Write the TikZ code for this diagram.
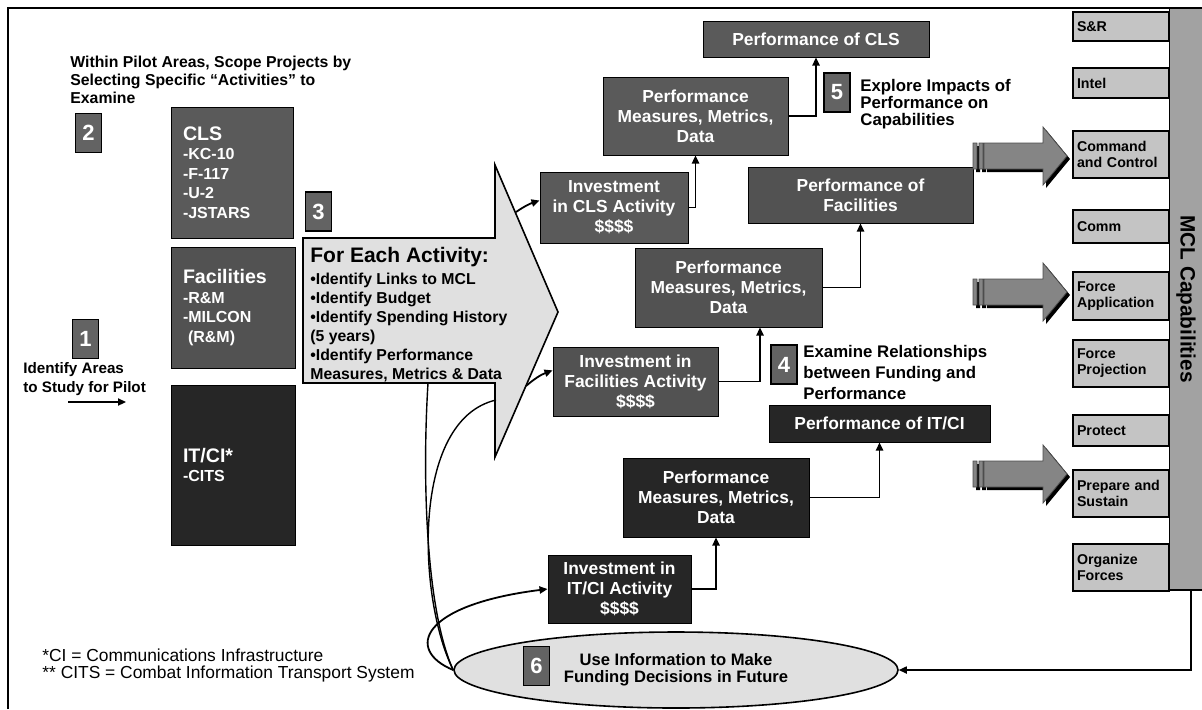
\documentclass[tikz,border=0pt]{standalone}
\usepackage{fontspec}
\setmainfont{Liberation Sans}
\usetikzlibrary{arrows.meta, shapes.geometric}
\definecolor{clsFill}{HTML}{5A5A5A}
\definecolor{facFill}{HTML}{525252}
\definecolor{itFill}{HTML}{262626}
\definecolor{numFill}{HTML}{636363}
\definecolor{capFill}{HTML}{C4C4C4}
\definecolor{mclFill}{HTML}{A2A2A2}
\definecolor{flowFill}{HTML}{E0E0E0}
\definecolor{blockFill}{HTML}{858585}
\tikzset{
  frameLine/.style={line width=1pt},
  areaBox/.style={rectangle, draw=black, line width=0.5pt, text=white, align=left,
                  font=\bfseries\fontsize{8}{9.75}\selectfont, inner xsep=6pt, inner ysep=2pt},
  darkBox/.style={rectangle, draw=black, line width=0.5pt, text=white, align=center,
                  font=\bfseries\fontsize{8.7}{10}\selectfont, inner sep=1pt},
  clsBox/.style={darkBox, fill=clsFill},
  facBox/.style={darkBox, fill=facFill},
  itBox/.style={darkBox, fill=itFill},
  stepNum/.style={rectangle, draw=black, line width=0.6pt, fill=numFill, text=white,
                  font=\bfseries\fontsize{11}{12}\selectfont,
                  minimum width=13pt, minimum height=19.5pt, inner sep=0pt},
  capBox/.style={rectangle, draw=black, line width=0.8pt, fill=capFill, align=left,
                 text width=44pt, inner xsep=2pt, inner ysep=1pt,
                 font=\bfseries\fontsize{7.1}{8}\selectfont},
  mclBar/.style={rectangle, draw=black, line width=0.8pt, fill=mclFill,
                 font=\bfseries\fontsize{10.4}{12}\selectfont},
  flowShape/.style={draw=black, line width=0.8pt, fill=flowFill},
  blockArrow/.style={fill=blockFill, draw=black!70, line width=0.4pt},
  blockShadow/.style={fill=black},
  noteText/.style={anchor=north west, align=left, inner sep=0pt},
  footText/.style={noteText, font=\fontsize{8.7}{8.5}\selectfont},
  linkArrow/.style={-{Triangle[length=4pt, width=3.6pt]}, line width=0.9pt},
  linkLine/.style={line width=0.7pt},
}
\begin{document}
\begin{tikzpicture}[x=0.5pt, y=-0.5pt]
  \useasboundingbox (0,0) rectangle (1202,709);

  % outer frame, closed on the right by the capability bar
  \draw[frameLine] (8,709) -- (8,8) -- (1171,8);

  % ─── steps 1-3: pick areas and activities ─────────────────────────────
  \node[noteText, font=\bfseries\fontsize{7.9}{9}\selectfont] (scopeText) at (70,56)
       {Within Pilot Areas, Scope Projects by\\Selecting Specific “Activities” to\\Examine};
  \node[stepNum] (num2) at (88.5,133) {2};
  \node[stepNum] (num1) at (85.5,339) {1};
  \node[noteText, font=\bfseries\fontsize{7.6}{9.5}\selectfont] (pilotText) at (23,362)
       {Identify Areas\\to Study for Pilot};
  \coordinate (pilotTail) at (68,402);
  \coordinate (pilotHead) at (126,402);
  \draw[linkArrow, line width=0.7pt] (pilotTail) -- (pilotHead);

  \node[areaBox, fill=clsFill, text width=49pt, minimum height=65.5pt] (areaCLS) at (232,172.5)
       {{\fontsize{9.8}{11}\selectfont CLS}\\-KC-10\\-F-117\\-U-2\\-JSTARS};
  \node[areaBox, fill=facFill, text width=50pt, minimum height=60.5pt] (areaFac) at (233,307.5)
       {{\fontsize{9.8}{11}\selectfont Facilities}\\-R\&M\\-MILCON\\\hspace{2.5pt}(R\&M)};
  \node[areaBox, fill=itFill, text width=50pt, minimum height=80pt] (areaIT) at (233,465)
       {{\fontsize{9.8}{11}\selectfont IT/CI*}\\-CITS};
  \node[stepNum] (num3) at (318.5,211.5) {3};

  % big process arrow
  \filldraw[flowShape] (303,238) -- (495,238) -- (495,165) -- (558,312)
                       -- (495,457) -- (495,383) -- (303,383) -- cycle;
  \node[noteText, font=\bfseries\fontsize{7.9}{9.5}\selectfont] (activityText) at (310,247)
       {{\fontsize{10.5}{12}\selectfont For Each Activity:}\\[1.5pt]
        \textbullet Identify Links to MCL\\
        \textbullet Identify Budget\\
        \textbullet Identify Spending History\\
        (5 years)\\
        \textbullet Identify Performance\\
        Measures, Metrics \& Data};
  \coordinate (headUpper) at (516,212);
  \coordinate (headLower) at (526,386);
  \coordinate (bodyFoot) at (428,383);
  \coordinate (headFoot) at (496,400);

  % ─── investment -> measures -> performance, one chain per area ─────────
  \node[clsBox, minimum width=74pt, minimum height=35.5pt] (invCLS) at (614,207.5)
       {Investment\\in CLS Activity\\\$\$\$\$};
  \node[clsBox, minimum width=92.5pt, minimum height=39pt] (pmCLS) at (695.5,116)
       {Performance\\Measures, Metrics,\\Data};
  \node[clsBox, minimum width=113pt, minimum height=18pt] (perfCLS) at (816,39)
       {Performance of CLS};

  \node[facBox, minimum width=82.5pt, minimum height=34.5pt] (invFac) at (635.5,381.5)
       {Investment in\\Facilities Activity\\\$\$\$\$};
  \node[facBox, minimum width=93.5pt, minimum height=39.5pt] (pmFac) at (728.5,287.5)
       {Performance\\Measures, Metrics,\\Data};
  \node[facBox, minimum width=112.5pt, minimum height=28pt] (perfFac) at (860.5,195)
       {Performance of\\Facilities};

  \node[itBox, minimum width=71.5pt, minimum height=34pt] (invIT) at (619.5,589)
       {Investment in\\IT/CI Activity\\\$\$\$\$};
  \node[itBox, minimum width=93pt, minimum height=39.5pt] (pmIT) at (716,497.5)
       {Performance\\Measures, Metrics,\\Data};
  \node[itBox, minimum width=110.5pt, minimum height=18.5pt] (perfIT) at (879.5,423.5)
       {Performance of IT/CI};

  % steps 4 and 5
  \node[stepNum] (num5) at (837,92.5) {5};
  \node[noteText, font=\bfseries\fontsize{8.4}{8.4}\selectfont] (exploreText) at (860,79)
       {Explore Impacts of\\Performance on\\Capabilities};
  \node[stepNum] (num4) at (784,364.5) {4};
  \node[noteText, font=\bfseries\fontsize{8.4}{10.5}\selectfont] (examineText) at (803,345)
       {Examine Relationships\\between Funding and\\Performance};

  % ─── step 6 ──────────────────────────────────────────────────────────
  \node[ellipse, flowShape, minimum width=222pt, minimum height=38pt, inner sep=0pt,
        align=center, font=\bfseries\fontsize{8.3}{8.7}\selectfont] (useInfo) at (676,670)
       {Use Information to Make\\Funding Decisions in Future};
  \node[stepNum] (num6) at (536.5,666) {6};

  \node[footText] (footCI) at (42,648)
       {*CI = Communications Infrastructure\\** CITS = Combat Information Transport System};

  % ─── MCL capabilities column ───────────────────────────────────────────
  \node[mclBar, rotate=-90, minimum width=291pt, minimum height=15pt] (mcl) at (1186,299)
       {MCL Capabilities};
  \node[capBox, minimum height=14.5pt] (capSR) at (1121,26.5) {S\&R};
  \node[capBox, minimum height=15pt] (capIntel) at (1121,83) {Intel};
  \node[capBox, minimum height=23.5pt] (capCommand) at (1121,154.5) {Command\\and Control};
  \node[capBox, minimum height=16.5pt] (capComm) at (1121,226.5) {Comm};
  \node[capBox, minimum height=24pt] (capForceApp) at (1121,296) {Force\\Application};
  \node[capBox, minimum height=23.5pt] (capForceProj) at (1121,363.5) {Force\\Projection};
  \node[capBox, minimum height=15.5pt] (capProtect) at (1121,430.5) {Protect};
  \node[capBox, minimum height=23.5pt] (capSustain) at (1121,493.5) {Prepare and\\Sustain};
  \node[capBox, minimum height=23.5pt] (capOrganize) at (1121,567.5) {Organize\\Forces};

  % striped block arrows into the capabilities
  \foreach \ay in {156,292,474} {
    \fill[blockShadow] (976,\ay-10) rectangle (980,\ay+16)
                       (982,\ay-10) rectangle (986,\ay+16)
                       (987,\ay-10) -- (1046,\ay-10) -- (1046,\ay-26) -- (1070,\ay+3)
                       -- (1046,\ay+32) -- (1046,\ay+16) -- (987,\ay+16) -- cycle;
    \filldraw[blockArrow] (973,\ay-13) rectangle (977,\ay+13)
                          (979,\ay-13) rectangle (983,\ay+13)
                          (984,\ay-13) -- (1043,\ay-13) -- (1043,\ay-29) -- (1067,\ay)
                          -- (1043,\ay+29) -- (1043,\ay+13) -- (984,\ay+13) -- cycle;
  }

  % ─── connectors ──────────────────────────────────────────────────────
  \draw[linkArrow] (headUpper) to[bend left=8] (invCLS);
  \draw[linkArrow] (headLower) to[bend left=10] (invFac);
  \draw[linkArrow] (invCLS) -| (pmCLS);
  \draw[linkArrow] (pmCLS) -| (perfCLS);
  \draw[linkArrow] (invFac) -| ([xshift=15.75pt]pmFac.south);
  \draw[linkArrow] (pmFac) -| (perfFac);
  \draw[linkArrow] (invIT) -| (pmIT);
  \draw[linkArrow] (pmIT) -| (perfIT);

  % feedback from step 6
  \draw[linkLine] (bodyFoot) .. controls (422,480) and (426,610) .. (useInfo.west);
  \draw[linkLine] (headFoot) .. controls (410,420) and (418,600) .. (useInfo.west);
  \draw[linkArrow] (useInfo.west) .. controls (405,650) and (420,605) .. (invIT.west);
  \draw[linkArrow, line width=0.6pt] ([xshift=2.5pt]mcl.east) |- (useInfo);
\end{tikzpicture}
\end{document}
